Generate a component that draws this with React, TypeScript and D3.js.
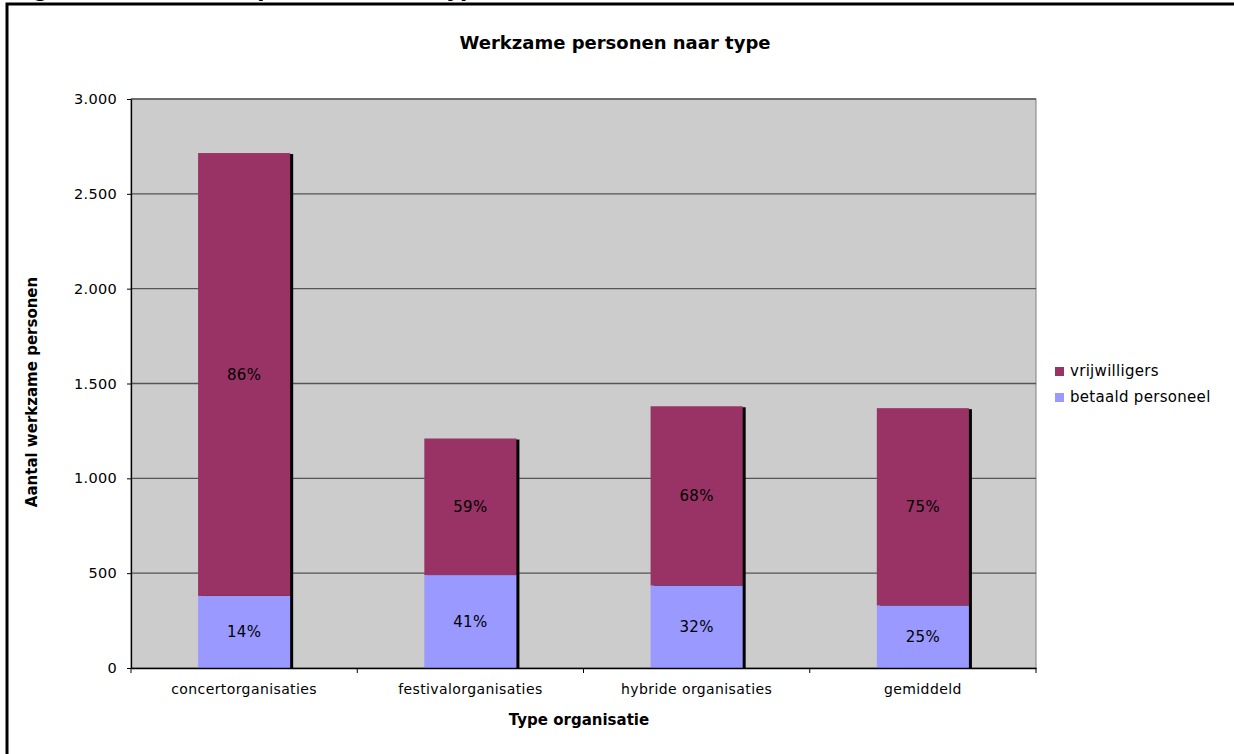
import React, { useEffect, useRef } from 'react';
import * as d3 from 'd3';

const categories = ['concertorganisaties', 'festivalorganisaties', 'hybride organisaties', 'gemiddeld'];
const betaald = [380, 490, 435, 330];
const vrijwilligers = [2335, 720, 945, 1040];
const pctBetaald = ['14%', '41%', '32%', '25%'];
const pctVrijwilligers = ['86%', '59%', '68%', '75%'];
const yTicks = [0, 500, 1000, 1500, 2000, 2500, 3000];
const seriesNames = ['vrijwilligers', 'betaald personeel'];

const App: React.FC = () => {
  const svgRef = useRef<SVGSVGElement>(null);

  useEffect(() => {
    if (!svgRef.current) return;
    document.body.style.margin = '0';
    document.body.style.overflow = 'hidden';
    const svg = d3.select(svgRef.current);
    svg.selectAll('*').remove();

    const width = 1234;
    const height = 754;
    const plot = { left: 131, right: 1036, top: 99, bottom: 668 };
    const font = '"DejaVu Sans", Verdana, sans-serif';
    const volColor = '#993366';
    const paidColor = '#9999ff';

    svg.attr('width', width).attr('height', height);

    // outer frame, partly cut off by the page
    svg.append('rect')
      .attr('x', 7).attr('y', 4)
      .attr('width', 1300).attr('height', 800)
      .attr('fill', 'white')
      .attr('stroke', 'black')
      .attr('stroke-width', 3);

    // caption above the frame, only the descenders show
    svg.append('text')
      .attr('x', 12).attr('y', -3)
      .style('font-family', font)
      .style('font-size', '21px')
      .style('font-weight', 'bold')
      .text('Figuur 6: Werkzame personen naar type');

    const x = d3.scaleBand<string>()
      .domain(categories)
      .range([plot.left, plot.right])
      .paddingInner(0.593)
      .paddingOuter(0.2965);

    const y = d3.scaleLinear().domain([0, 3000]).range([plot.bottom, plot.top]);

    // plot background
    svg.append('rect')
      .attr('x', plot.left).attr('y', plot.top)
      .attr('width', plot.right - plot.left)
      .attr('height', plot.bottom - plot.top)
      .attr('fill', '#cccccc')
      .attr('stroke', '#808080')
      .attr('stroke-width', 1);

    // gridlines
    svg.append('g')
      .selectAll('line')
      .data(yTicks.filter(d => d > 0))
      .enter()
      .append('line')
      .attr('x1', plot.left).attr('x2', plot.right)
      .attr('y1', d => y(d)).attr('y2', d => y(d))
      .attr('stroke', '#555')
      .attr('stroke-width', 1.3);

    const bw = x.bandwidth();

    // bar shadows
    svg.append('g')
      .selectAll('rect')
      .data(categories)
      .enter()
      .append('rect')
      .attr('x', d => (x(d) ?? 0) + 3)
      .attr('y', (d, i) => y(betaald[i] + vrijwilligers[i]) + 1)
      .attr('width', bw)
      .attr('height', (d, i) => plot.bottom - y(betaald[i] + vrijwilligers[i]) - 1)
      .attr('fill', 'black');

    // betaald personeel
    svg.append('g')
      .selectAll('rect')
      .data(categories)
      .enter()
      .append('rect')
      .attr('x', d => x(d) ?? 0)
      .attr('y', (d, i) => y(betaald[i]))
      .attr('width', bw)
      .attr('height', (d, i) => y(0) - y(betaald[i]))
      .attr('fill', paidColor);

    // vrijwilligers
    svg.append('g')
      .selectAll('rect')
      .data(categories)
      .enter()
      .append('rect')
      .attr('x', d => x(d) ?? 0)
      .attr('y', (d, i) => y(betaald[i] + vrijwilligers[i]))
      .attr('width', bw)
      .attr('height', (d, i) => y(betaald[i]) - y(betaald[i] + vrijwilligers[i]))
      .attr('fill', volColor);

    // percentage labels
    const labels = svg.append('g')
      .style('font-family', font)
      .style('font-size', '15px')
      .style('letter-spacing', '0.3px')
      .attr('text-anchor', 'middle');

    categories.forEach((c, i) => {
      const cx = (x(c) ?? 0) + bw / 2;
      labels.append('text')
        .attr('x', cx)
        .attr('y', (y(0) + y(betaald[i])) / 2)
        .attr('dy', '0.35em')
        .text(pctBetaald[i]);
      labels.append('text')
        .attr('x', cx)
        .attr('y', (y(betaald[i]) + y(betaald[i] + vrijwilligers[i])) / 2)
        .attr('dy', '0.35em')
        .text(pctVrijwilligers[i]);
    });

    // y axis
    const nl = d3.formatLocale({ decimal: ',', thousands: '.', grouping: [3], currency: ['€', ''] });
    const yAxis = svg.append('g')
      .attr('transform', `translate(${plot.left},0)`)
      .call(d3.axisLeft(y).tickValues(yTicks).tickFormat(d => nl.format(',d')(d as number)).tickSize(4).tickPadding(10).tickSizeOuter(0));
    yAxis.select('.domain').attr('stroke', 'black').attr('stroke-width', 1.3);
    yAxis.selectAll('.tick line').attr('stroke', 'black');
    yAxis.selectAll('text')
      .style('font-family', font)
      .style('font-size', '14.5px')
      .style('letter-spacing', '0.3px')
      .attr('fill', 'black');

    // x axis
    const xAxis = svg.append('g')
      .attr('transform', `translate(0,${plot.bottom})`)
      .call(d3.axisBottom(x).tickSize(0).tickPadding(16));
    xAxis.select('.domain').attr('stroke', 'black').attr('stroke-width', 1.3);
    xAxis.selectAll('text')
      .style('font-family', font)
      .style('font-size', '14px')
      .style('letter-spacing', '0.4px')
      .attr('fill', 'black');

    // category boundary ticks
    svg.append('g')
      .selectAll('line')
      .data(d3.range(categories.length + 1))
      .enter()
      .append('line')
      .attr('x1', i => plot.left + i * x.step())
      .attr('x2', i => plot.left + i * x.step())
      .attr('y1', plot.bottom)
      .attr('y2', plot.bottom + 5)
      .attr('stroke', 'black');

    // title
    svg.append('text')
      .attr('x', 615).attr('y', 49)
      .attr('text-anchor', 'middle')
      .style('font-family', font)
      .style('font-size', '18px')
      .style('font-weight', 'bold')
      .text('Werkzame personen naar type');

    // axis titles
    svg.append('text')
      .attr('transform', `translate(37,392) rotate(-90)`)
      .attr('text-anchor', 'middle')
      .style('font-family', font)
      .style('font-size', '15px')
      .style('font-weight', 'bold')
      .text('Aantal werkzame personen');

    svg.append('text')
      .attr('x', 579).attr('y', 725)
      .attr('text-anchor', 'middle')
      .style('font-family', font)
      .style('font-size', '15px')
      .style('font-weight', 'bold')
      .text('Type organisatie');

    // legend
    const legend = svg.append('g').attr('transform', 'translate(1055,367)');
    [volColor, paidColor].forEach((color, i) => {
      legend.append('rect')
        .attr('x', 0).attr('y', i * 26)
        .attr('width', 9).attr('height', 9)
        .attr('fill', color);
      legend.append('text')
        .attr('x', 15).attr('y', i * 26 + 9)
        .style('font-family', font)
        .style('font-size', '15px')
        .style('letter-spacing', '0.3px')
        .text(seriesNames[i]);
    });
  }, []);

  return <svg ref={svgRef} style={{ position: 'absolute', left: 0, top: 0, display: 'block' }}></svg>;
};

export default App;
